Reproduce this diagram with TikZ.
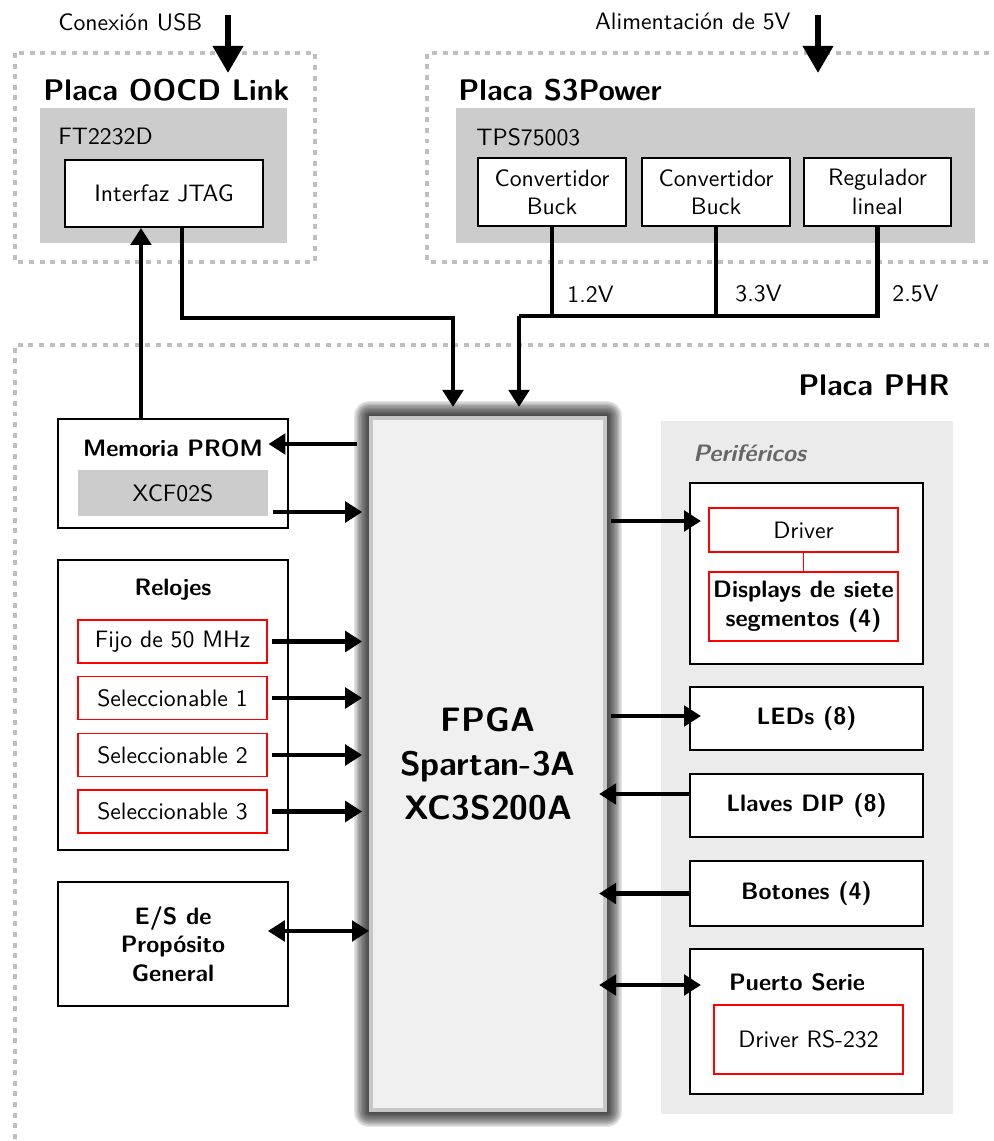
\documentclass[tikz,border=0pt]{standalone}
\usepackage{tikz}
\usetikzlibrary{arrows.meta, positioning, backgrounds}
\renewcommand{\familydefault}{\sfdefault}
\newcommand{\px}{0.4425pt}

\tikzset{
  board/.style={draw=black!25, line width=2.2pt, dash pattern=on 2.2pt off 2.5pt},
  boxsize/.style 2 args={minimum width=#1*\px, minimum height=#2*\px, inner sep=0pt},
  chip/.style={fill=black!20},
  block/.style={draw, line width=0.9pt, fill=white, align=center},
  redbox/.style={draw=red, line width=0.75pt, fill=white, align=center},
  title/.style={font=\fontsize{13.2}{16}\selectfont\bfseries, anchor=west, inner sep=0pt},
  wire/.style={line width=1.8pt},
  link/.style={line width=1.8pt, -{Triangle[length=7.5pt, width=9pt]}},
  dlink/.style={line width=1.8pt, {Triangle[length=7.5pt, width=9pt]}-{Triangle[length=7.5pt, width=9pt]}},
  feed/.style={line width=2.7pt, -{Triangle[length=12pt, width=13pt]}},
  fpgabox/.style={fill=black!6, draw=black!22, line width=1.8pt, align=center,
    font=\bfseries\fontsize{15}{19.5}\selectfont}
}

\begin{document}
\fontsize{10.5}{12.6}\selectfont
\begin{tikzpicture}[x=\px, y=-\px]
\useasboundingbox (0,0) rectangle (993,1141);

% placa OOCD Link
\draw[board] (15,53) rectangle (315,262);
\node[title] (oocd) at (43,90) {Placa OOCD Link};
\node[chip, boxsize={247}{135}] (ft2232) at (163.5,175.5) {};
\node[anchor=west, inner sep=0pt] at (58,137) {FT2232D};
\node[block, boxsize={198}{67}] (jtag) at (164,193.5) {Interfaz JTAG};
\node[anchor=west, inner sep=0pt] (usb) at (58,22) {Conexión USB};
\coordinate (usbin) at (228,15);
\coordinate (usbout) at (228,73);
\draw[feed] (usbin) -- (usbout);

% placa S3Power
\draw[board] (1000,53) -- (427,53) -- (427,262) -- (1000,262);
\node[title] (s3power) at (458,90) {Placa S3Power};
\node[chip, boxsize={519}{135}] (tps) at (715.5,175.5) {};
\node[anchor=west, inner sep=0pt] at (476,137) {TPS75003};
\node[block, boxsize={148}{68}] (buck1) at (552,192) {Convertidor\\Buck};
\node[block, boxsize={148}{68}] (buck2) at (716,192) {Convertidor\\Buck};
\node[block, boxsize={147}{68}] (reg) at (877.5,192) {Regulador\\lineal};
\node[anchor=east, inner sep=0pt] (vin) at (791,22) {Alimentación de 5V};
\coordinate (pwrin) at (818,15);
\coordinate (pwrout) at (818,73);
\draw[feed] (pwrin) -- (pwrout);

% placa PHR
\draw[board] (1000,345) -- (15,345) -- (15,1150);
\node[title, anchor=east] (phr) at (950,385) {Placa PHR};

% perifericos
\node[fill=black!8, boxsize={292}{693}] (perif) at (807,767.5) {};
\node[anchor=west, inner sep=0pt, text=black!60, font=\bfseries\itshape] at (693,453) {Periféricos};
\node[block, boxsize={233}{181}] (disp) at (806.5,573.5) {};
\node[redbox, boxsize={189}{44}] (driver) at (803.5,530) {Driver};
\node[redbox, boxsize={189}{69}, font=\bfseries] (segs) at (803.5,606.5) {Displays de siete\\segmentos (4)};
\draw[red, line width=0.75pt] (driver) -- (segs);
\node[block, boxsize={233}{63}, font=\bfseries] (leds) at (806.5,718.5) {LEDs (8)};
\node[block, boxsize={233}{63}, font=\bfseries] (dip) at (806.5,805.5) {Llaves DIP (8)};
\node[block, boxsize={233}{65}, font=\bfseries] (btn) at (806.5,893.5) {Botones (4)};
\node[block, boxsize={233}{145}] (serie) at (806.5,1021.5) {};
\node[font=\bfseries] at (797,982) {Puerto Serie};
\node[redbox, boxsize={189}{69}] (rs232) at (808.5,1039.5) {Driver RS-232};

% memoria, relojes y E/S
\node[block, boxsize={230}{109}] (prom) at (173,473.5) {};
\node[font=\bfseries] at (173,448) {Memoria PROM};
\node[chip, boxsize={190}{46}] (xcf) at (173,493) {XCF02S};
\node[block, boxsize={230}{290}] (relojes) at (173,705) {};
\node[font=\bfseries] at (173,590) {Relojes};
\node[redbox, boxsize={189}{43}] (clk1) at (172.5,641.5) {Fijo de 50 MHz};
\node[redbox, boxsize={189}{43}] (clk2) at (172.5,698) {Seleccionable 1};
\node[redbox, boxsize={189}{43}] (clk3) at (172.5,755) {Seleccionable 2};
\node[redbox, boxsize={189}{43}] (clk4) at (172.5,811.5) {Seleccionable 3};
\node[block, boxsize={230}{124}, font=\bfseries] (gpio) at (173,944) {E/S de\\Propósito\\General};

% FPGA con sombra
\node[fpgabox, boxsize={234}{692}] (fpga) at (488,764) {FPGA\\Spartan-3A\\XC3S200A};
\begin{scope}[on background layer]
  \foreach \d in {0.6,1.2,...,6.6}
    \fill[black, opacity=0.1, rounded corners=\d pt]
      ([xshift=-\d pt, yshift=-\d pt]fpga.south west) rectangle ([xshift=\d pt, yshift=\d pt]fpga.north east);
\end{scope}

% conexiones
\draw[wire] (reg.south) |- (519,316) coordinate (vbus);
\draw[wire] (buck1.south) -- (buck1.south |- vbus);
\draw[wire] (buck2.south) -- (buck2.south |- vbus);
\draw[link, shorten >=4pt] (vbus) -- (vbus |- fpga.north);
\node[anchor=west, inner sep=0pt] at (567,294) {1.2V};
\node[anchor=west, inner sep=0pt] at (735,294) {3.3V};
\node[anchor=west, inner sep=0pt] at (892,294) {2.5V};
\draw[link, shorten >=4pt] (jtag.south -| 182,0) |- (453,318) -- (fpga.north -| 453,0);
\draw[link] (prom.north -| 141,0) -- (jtag.south -| 141,0);

\draw[link, shorten <=5.3pt] (fpga.west |- 0,444) -- (xcf.east |- 0,444);
\draw[link, shorten <=1.8pt, shorten >=3pt] (xcf.east |- 0,512) -- (fpga.west |- 0,512);
\draw[link, shorten <=1.8pt, shorten >=3pt] (clk1.east) -- (clk1.east -| fpga.west);
\draw[link, shorten <=1.8pt, shorten >=3pt] (clk2.east) -- (clk2.east -| fpga.west);
\draw[link, shorten <=1.8pt, shorten >=3pt] (clk3.east) -- (clk3.east -| fpga.west);
\draw[link, shorten <=1.8pt, shorten >=3pt] (clk4.east) -- (clk4.east -| fpga.west);
\draw[dlink] (clk4.east |- 0,931) -- (fpga.west |- 0,931);

\draw[link, shorten <=1.8pt, shorten >=-5.3pt] (fpga.east |- 0,521) -- (disp.west |- 0,521);
\draw[link, shorten <=1.8pt, shorten >=-5.3pt] (fpga.east |- 0,716) -- (leds.west |- 0,716);
\draw[link, shorten >=-3.5pt] (dip.west |- 0,794) -- (fpga.east |- 0,794);
\draw[link, shorten >=-3.5pt] (btn.west) -- (btn.west -| fpga.east);
\draw[dlink, shorten <=-3.5pt, shorten >=-5.3pt] (fpga.east |- 0,985) -- (serie.west |- 0,985);
\end{tikzpicture}
\end{document}
